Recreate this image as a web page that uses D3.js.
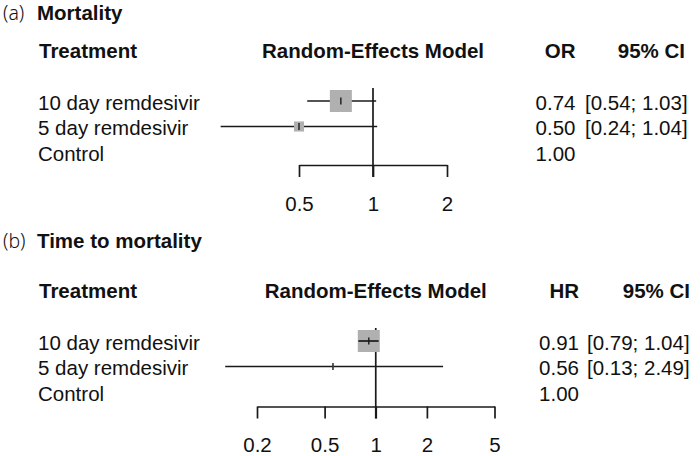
<!DOCTYPE html>
<html>
<head>
<meta charset="utf-8">
<script src="https://cdn.jsdelivr.net/npm/d3@7"></script>
<style>
  body { margin: 0; background: #fff; }
  text { font-family: "Liberation Sans", Arial, sans-serif; fill: #111; }
</style>
</head>
<body>
<div id="chart"></div>
<script>
// data
var treatments = ["10 day remdesivir", "5 day remdesivir", "Control"];

var mortalityOR = [0.74, 0.50, 1.00],
    mortalityLower = [0.54, 0.24, null],
    mortalityUpper = [1.03, 1.04, null],
    mortalityWeight = [1.0, 0.21, null],
    mortalityTicks = [0.5, 1, 2];

var timeHR = [0.91, 0.56, 1.00],
    timeLower = [0.79, 0.13, null],
    timeUpper = [1.04, 2.49, null],
    timeWeight = [1.0, 0.004, null],
    timeTicks = [0.2, 0.5, 1, 2, 5];

var width = 700, height = 456, fontSize = 20.5;

var svg = d3.select("#chart").append("svg")
    .attr("width", width)
    .attr("height", height);

var boxSize = d3.scaleSqrt().domain([0, 1]).range([0, 22]);

function fmt(v) { return d3.format(".2f")(v); }

function forestPanel(opt) {
    var g = svg.append("g");

    // title
    var title = g.append("text")
        .attr("x", 3)
        .attr("y", opt.titleY)
        .style("font-size", fontSize + "px");
    title.append("tspan")
        .style("font-family", "'Noto Sans', 'DejaVu Sans', sans-serif")
        .style("font-weight", 300)
        .style("font-size", "19.5px")
        .text(opt.letter);
    title.append("tspan")
        .attr("x", 37)
        .style("font-weight", "bold")
        .text(opt.title);

    var x = d3.scaleLog().domain(opt.domain).range(opt.range);
    var y = d3.scalePoint().domain(treatments).range(opt.rowRange);

    var rows = treatments.map(function(t, i) {
        return {name: t, est: opt.est[i], lo: opt.lower[i], hi: opt.upper[i], w: opt.weight[i]};
    });

    // headers
    var head = g.append("g")
        .style("font-size", fontSize + "px")
        .style("font-weight", "bold");
    head.append("text").attr("x", 39).attr("y", opt.headY).text("Treatment");
    head.append("text").attr("x", x(1)).attr("y", opt.headY)
        .attr("text-anchor", "middle").text("Random-Effects Model");
    head.append("text").attr("x", opt.estX).attr("y", opt.headY)
        .attr("text-anchor", "end").text(opt.measure);
    head.append("text").attr("x", opt.ciHeadX).attr("y", opt.headY)
        .attr("text-anchor", "end").text("95% CI");

    // row labels and numbers
    var rowText = g.append("g").style("font-size", fontSize + "px");
    rowText.selectAll(".lab").data(rows).enter().append("text")
        .attr("x", 38)
        .attr("y", function(d) { return y(d.name) + 8.5; })
        .text(function(d) { return d.name; });
    rowText.selectAll(".est").data(rows).enter().append("text")
        .attr("x", opt.estX)
        .attr("y", function(d) { return y(d.name) + 8.5; })
        .attr("text-anchor", "end")
        .text(function(d) { return fmt(d.est); });
    rowText.selectAll(".ci").data(rows.filter(function(d) { return d.lo != null; })).enter().append("text")
        .attr("x", opt.ciX)
        .attr("y", function(d) { return y(d.name) + 8.5; })
        .text(function(d) { return "[" + fmt(d.lo) + "; " + fmt(d.hi) + "]"; });

    // axis
    var axisY = opt.axisY;
    var axis = g.append("g")
        .attr("transform", "translate(0," + axisY + ")")
        .call(d3.axisBottom(x).tickValues(opt.ticks).tickFormat(d3.format("")).tickSize(12).tickSizeOuter(0).tickPadding(opt.tickPad));
    axis.select(".domain").attr("stroke", "#1a1a1a").attr("stroke-width", 1.7);
    axis.selectAll(".tick line").attr("stroke", "#1a1a1a").attr("stroke-width", 1.7);
    axis.selectAll(".tick text")
        .style("font-size", fontSize + "px")
        .style("font-family", "'Liberation Sans', Arial, sans-serif")
        .attr("fill", "#111");

    // reference line at 1
    g.append("line")
        .attr("x1", x(1)).attr("x2", x(1))
        .attr("y1", y(treatments[0]) - 13)
        .attr("y2", axisY + 12)
        .attr("stroke", "#1a1a1a").attr("stroke-width", 1.7);

    var est = rows.filter(function(d) { return d.lo != null; });

    // confidence intervals
    g.selectAll(".ciline").data(est).enter().append("line")
        .attr("x1", function(d) { return x(d.lo); })
        .attr("x2", function(d) { return x(d.hi); })
        .attr("y1", function(d) { return y(d.name); })
        .attr("y2", function(d) { return y(d.name); })
        .attr("stroke", "#1a1a1a").attr("stroke-width", 1.7);

    // squares
    g.selectAll(".box").data(est).enter().append("rect")
        .attr("x", function(d) { return x(d.est) - boxSize(d.w) / 2; })
        .attr("y", function(d) { return y(d.name) - boxSize(d.w) / 2; })
        .attr("width", function(d) { return boxSize(d.w); })
        .attr("height", function(d) { return boxSize(d.w); })
        .attr("fill", "#b0b0b0");

    // CI drawn on top when it sits inside the square
    g.selectAll(".inside").data(est.filter(function(d) {
            var s = boxSize(d.w) / 2;
            return x(d.lo) > x(d.est) - s - 4 && x(d.hi) < x(d.est) + s + 4;
        })).enter().append("line")
        .attr("x1", function(d) { return x(d.lo); })
        .attr("x2", function(d) { return x(d.hi); })
        .attr("y1", function(d) { return y(d.name); })
        .attr("y2", function(d) { return y(d.name); })
        .attr("stroke", "#1a1a1a").attr("stroke-width", 1.7);

    // point estimate tick
    g.selectAll(".pt").data(est).enter().append("line")
        .attr("x1", function(d) { return x(d.est); })
        .attr("x2", function(d) { return x(d.est); })
        .attr("y1", function(d) { return y(d.name) - 3.5; })
        .attr("y2", function(d) { return y(d.name) + 3.5; })
        .attr("stroke", "#1a1a1a").attr("stroke-width", 1.4);
}

forestPanel({
    letter: "(a)", title: "Mortality", titleY: 19.5, headY: 58, measure: "OR",
    est: mortalityOR, lower: mortalityLower, upper: mortalityUpper, weight: mortalityWeight,
    ticks: mortalityTicks, domain: [0.5, 2], range: [299, 447],
    rowRange: [101, 152], axisY: 165, tickPad: 19.5,
    estX: 575.5, ciX: 585, ciHeadX: 685
});

forestPanel({
    letter: "(b)", title: "Time to mortality", titleY: 248, headY: 298, measure: "HR",
    est: timeHR, lower: timeLower, upper: timeUpper, weight: timeWeight,
    ticks: timeTicks, domain: [0.2, 5], range: [257, 494.5],
    rowRange: [341, 392], axisY: 406.5, tickPad: 18.5,
    estX: 579, ciX: 587, ciHeadX: 690
});
</script>
</body>
</html>
